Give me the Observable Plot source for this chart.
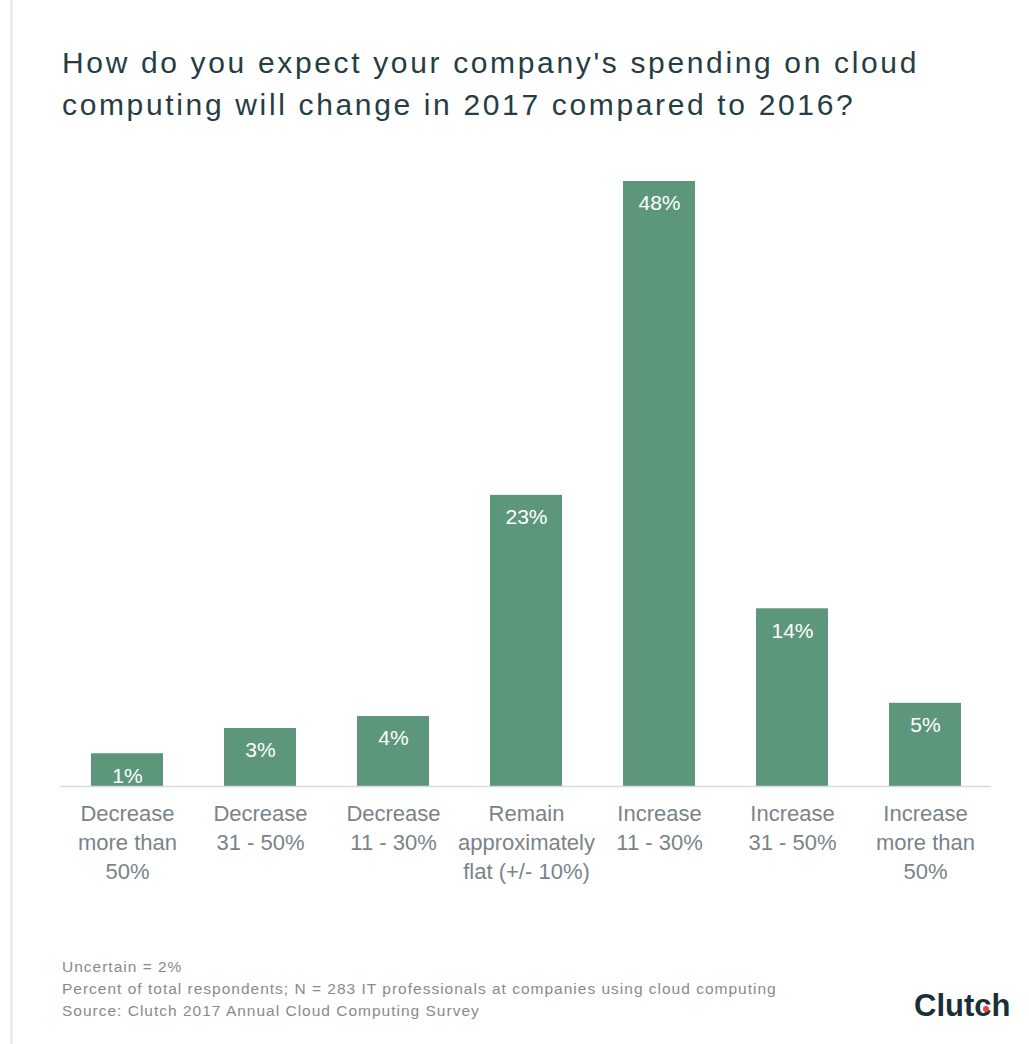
<!DOCTYPE html>
<html><head><meta charset="utf-8">
<script src="https://cdn.jsdelivr.net/npm/d3@7"></script>
<script src="https://cdn.jsdelivr.net/npm/@observablehq/plot@0.6"></script>
<style>
body{margin:0;background:#fff;}
#page{position:relative;width:1029px;height:1044px;overflow:hidden;font-family:"Liberation Sans",Arial,Helvetica,sans-serif;background:#fff;}
#border{position:absolute;left:10px;top:0;width:3px;height:1044px;background:#ededed;}
#title{position:absolute;left:62px;top:42px;margin:0;font-size:30px;line-height:42px;font-weight:normal;color:#263d44;letter-spacing:2.65px;white-space:nowrap;}
#chart{position:absolute;left:0;top:150px;}
#notes{position:absolute;left:62px;top:956px;font-size:15.5px;line-height:22px;color:#8a8a8a;letter-spacing:1.0px;white-space:nowrap;}
#logo{position:absolute;left:914px;top:990px;font-size:31px;line-height:31px;font-weight:bold;color:#1b2f39;letter-spacing:0px;}
#dot{position:absolute;left:983px;top:1006px;width:6px;height:6px;border-radius:50%;background:#ef4335;}
</style>
</head>
<body>
<div id="page">
  <div id="border"></div>
  <h1 id="title">How do you expect your company's spending on cloud<br>computing will change in 2017 compared to 2016?</h1>
  <div id="chart"></div>
  <div id="notes">Uncertain = 2%<br>Percent of total respondents; N = 283 IT professionals at companies using cloud computing<br>Source: Clutch 2017 Annual Cloud Computing Survey</div>
  <div id="logo">Clutch</div>
  <div id="dot"></div>
</div>
<script>
// Categories (x axis), as printed under each bar
const categories = [
  "Decrease\nmore than\n50%",
  "Decrease\n31 - 50%",
  "Decrease\n11 - 30%",
  "Remain\napproximately\nflat (+/- 10%)",
  "Increase\n11 - 30%",
  "Increase\n31 - 50%",
  "Increase\nmore than\n50%"
];
// Printed value labels
const valueLabels = ["1%", "3%", "4%", "23%", "48%", "14%", "5%"];
// Bar heights as drawn in the picture (in percentage units)
const barHeights = [2.6, 4.6, 5.55, 23.1, 48, 14.1, 6.6];

const data = categories.map((c, i) => ({cat: c, h: barHeights[i], label: valueLabels[i], base: 0}));

const chart = Plot.plot({
  width: 1029,
  height: 760,
  marginLeft: 60,
  marginRight: 38,
  marginTop: 31,
  marginBottom: 124,
  style: {fontFamily: "'Liberation Sans', Arial, Helvetica, sans-serif", background: "transparent"},
  x: {domain: categories, paddingInner: 0.46, paddingOuter: 0.23, axis: null},
  y: {domain: [0, 48], axis: null},
  marks: [
    Plot.barY(data, {x: "cat", y: "h", fill: "#5c977b"}),
    Plot.ruleY([0], {stroke: "#d9d9d9", strokeWidth: 1.5}),
    Plot.text(data, {x: "cat", y: "h", text: "label", fill: "#ffffff", fontSize: 21, lineAnchor: "top", dy: 14}),
    Plot.text(data, {x: "cat", y: "base", text: "cat", fill: "#7a8488", fontSize: 22, lineAnchor: "top", dy: 14, lineHeight: 1.32})
  ]
});
document.getElementById("chart").appendChild(chart);
</script>
</body></html>
